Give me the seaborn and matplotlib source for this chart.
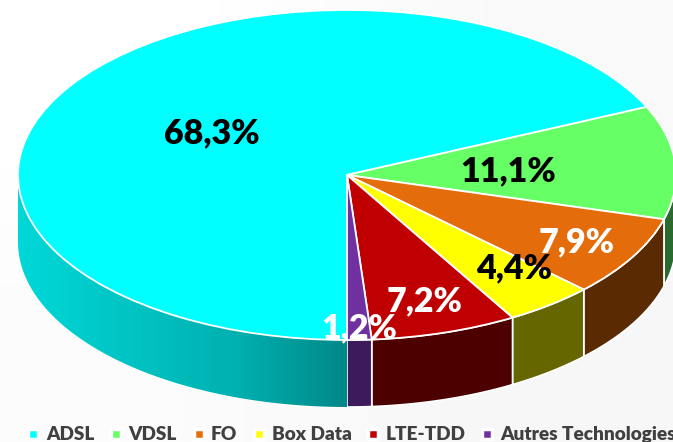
import matplotlib

matplotlib.use("Agg")
import matplotlib.pyplot as plt
import numpy as np
import seaborn as sns
from matplotlib.colors import LinearSegmentedColormap
from matplotlib.lines import Line2D
from matplotlib.patches import Polygon

categories = ["ADSL", "VDSL", "FO", "Box Data", "LTE-TDD", "Autres Technologies"]
shares = [68.3, 11.1, 7.9, 4.4, 7.2, 1.2]
share_labels = ["68,3%", "11,1%", "7,9%", "4,4%", "7,2%", "1,2%"]

top_colors = ["#00ffff", "#66ff66", "#e46c0a", "#ffff00", "#c00000", "#7030a0"]
side_colors = ["#00b8b8", "#2a6a2e", "#5a2a03", "#666600", "#4d0000", "#3d1a5b"]
label_colors = ["black", "black", "white", "black", "white", "white"]
label_radius = [0.49, 0.49, 0.80, 0.75, 0.79, 0.92]
label_shift = [0, 0, 0, 4.4, 0, 0]

WIDTH, HEIGHT = 673, 442
CX, CY, RX, RY = 347, 175, 329, 165
DEPTH = 67 / RY


def add_background(ax, extent):
    ax.imshow(
        [[1.0, 0.975], [0.985, 0.965]],
        extent=extent,
        cmap="gray",
        vmin=0,
        vmax=1,
        interpolation="bilinear",
        aspect="auto",
        zorder=0,
    )


def add_walls(ax, wedges):
    for i, wedge in enumerate(wedges):
        t = np.radians(np.linspace(wedge.theta1, wedge.theta2, 400))
        t = t[np.sin(t) <= 0]
        x, y = np.cos(t), np.sin(t)
        points = np.r_[np.c_[x, y], np.c_[x[::-1], y[::-1] - DEPTH]]
        poly = Polygon(points, facecolor=side_colors[i], edgecolor="white", lw=1.2, zorder=2)
        ax.add_patch(poly)
        if i == 0:
            # the big slice has a shaded side, darker towards the front
            shade = LinearSegmentedColormap.from_list(
                "side", ["#00d8d8", "#00c4c4", "#00b0b0", "#008888"]
            )
            image = ax.imshow(
                [np.linspace(0, 1, 256)],
                extent=(-1, 0, -1.5, 0),
                cmap=shade,
                aspect="auto",
                zorder=3,
            )
            clip = Polygon(points, transform=ax.transData, facecolor="none", edgecolor="none")
            ax.add_patch(clip)
            image.set_clip_path(clip)


def add_labels(ax, wedges):
    for i, wedge in enumerate(wedges):
        mid = np.radians((wedge.theta1 + wedge.theta2) / 2 + label_shift[i])
        ax.annotate(
            share_labels[i],
            xy=(label_radius[i] * np.cos(mid), label_radius[i] * np.sin(mid)),
            xytext=(0.5, -1.5),
            textcoords="offset points",
            color=label_colors[i],
            fontsize=24.5,
            fontweight="heavy",
            ha="center",
            va="center",
            zorder=10,
        )


def add_legend(fig):
    handles = [
        Line2D([], [], ls="", marker="s", ms=6.5, mfc=c, mec="white", mew=2.5) for c in top_colors
    ]
    fig.legend(
        handles,
        categories,
        ncol=6,
        loc="lower left",
        bbox_to_anchor=(23 / WIDTH, -5 / HEIGHT),
        frameon=False,
        handlelength=0.7,
        handletextpad=0.3,
        columnspacing=0.8,
        borderaxespad=0,
        borderpad=0.2,
        prop={"family": "Lato", "weight": "heavy", "size": 13.7},
        labelcolor="#404040",
    )


def main():
    sns.set_theme(style="white")
    plt.rcParams["font.family"] = ["Lato", "DejaVu Sans"]

    fig = plt.figure(figsize=(WIDTH / 100, HEIGHT / 100), dpi=100)
    ax = fig.add_axes((0, 0, 1, 1))

    wedges, _ = ax.pie(
        shares,
        colors=sns.color_palette(top_colors),
        startangle=270,
        counterclock=False,
        radius=1,
        wedgeprops={"edgecolor": "white", "linewidth": 1.3, "zorder": 5},
    )

    xlim = (-CX / RX, (WIDTH - CX) / RX)
    ylim = ((CY - HEIGHT) / RY, CY / RY)
    add_background(ax, (*xlim, *ylim))
    add_walls(ax, wedges)
    add_labels(ax, wedges)
    add_legend(fig)

    ax.set_aspect("auto")
    ax.set_xlim(*xlim)
    ax.set_ylim(*ylim)
    ax.axis("off")

    fig.savefig("out.png", dpi=100)
    plt.close(fig)


if __name__ == "__main__":
    main()
